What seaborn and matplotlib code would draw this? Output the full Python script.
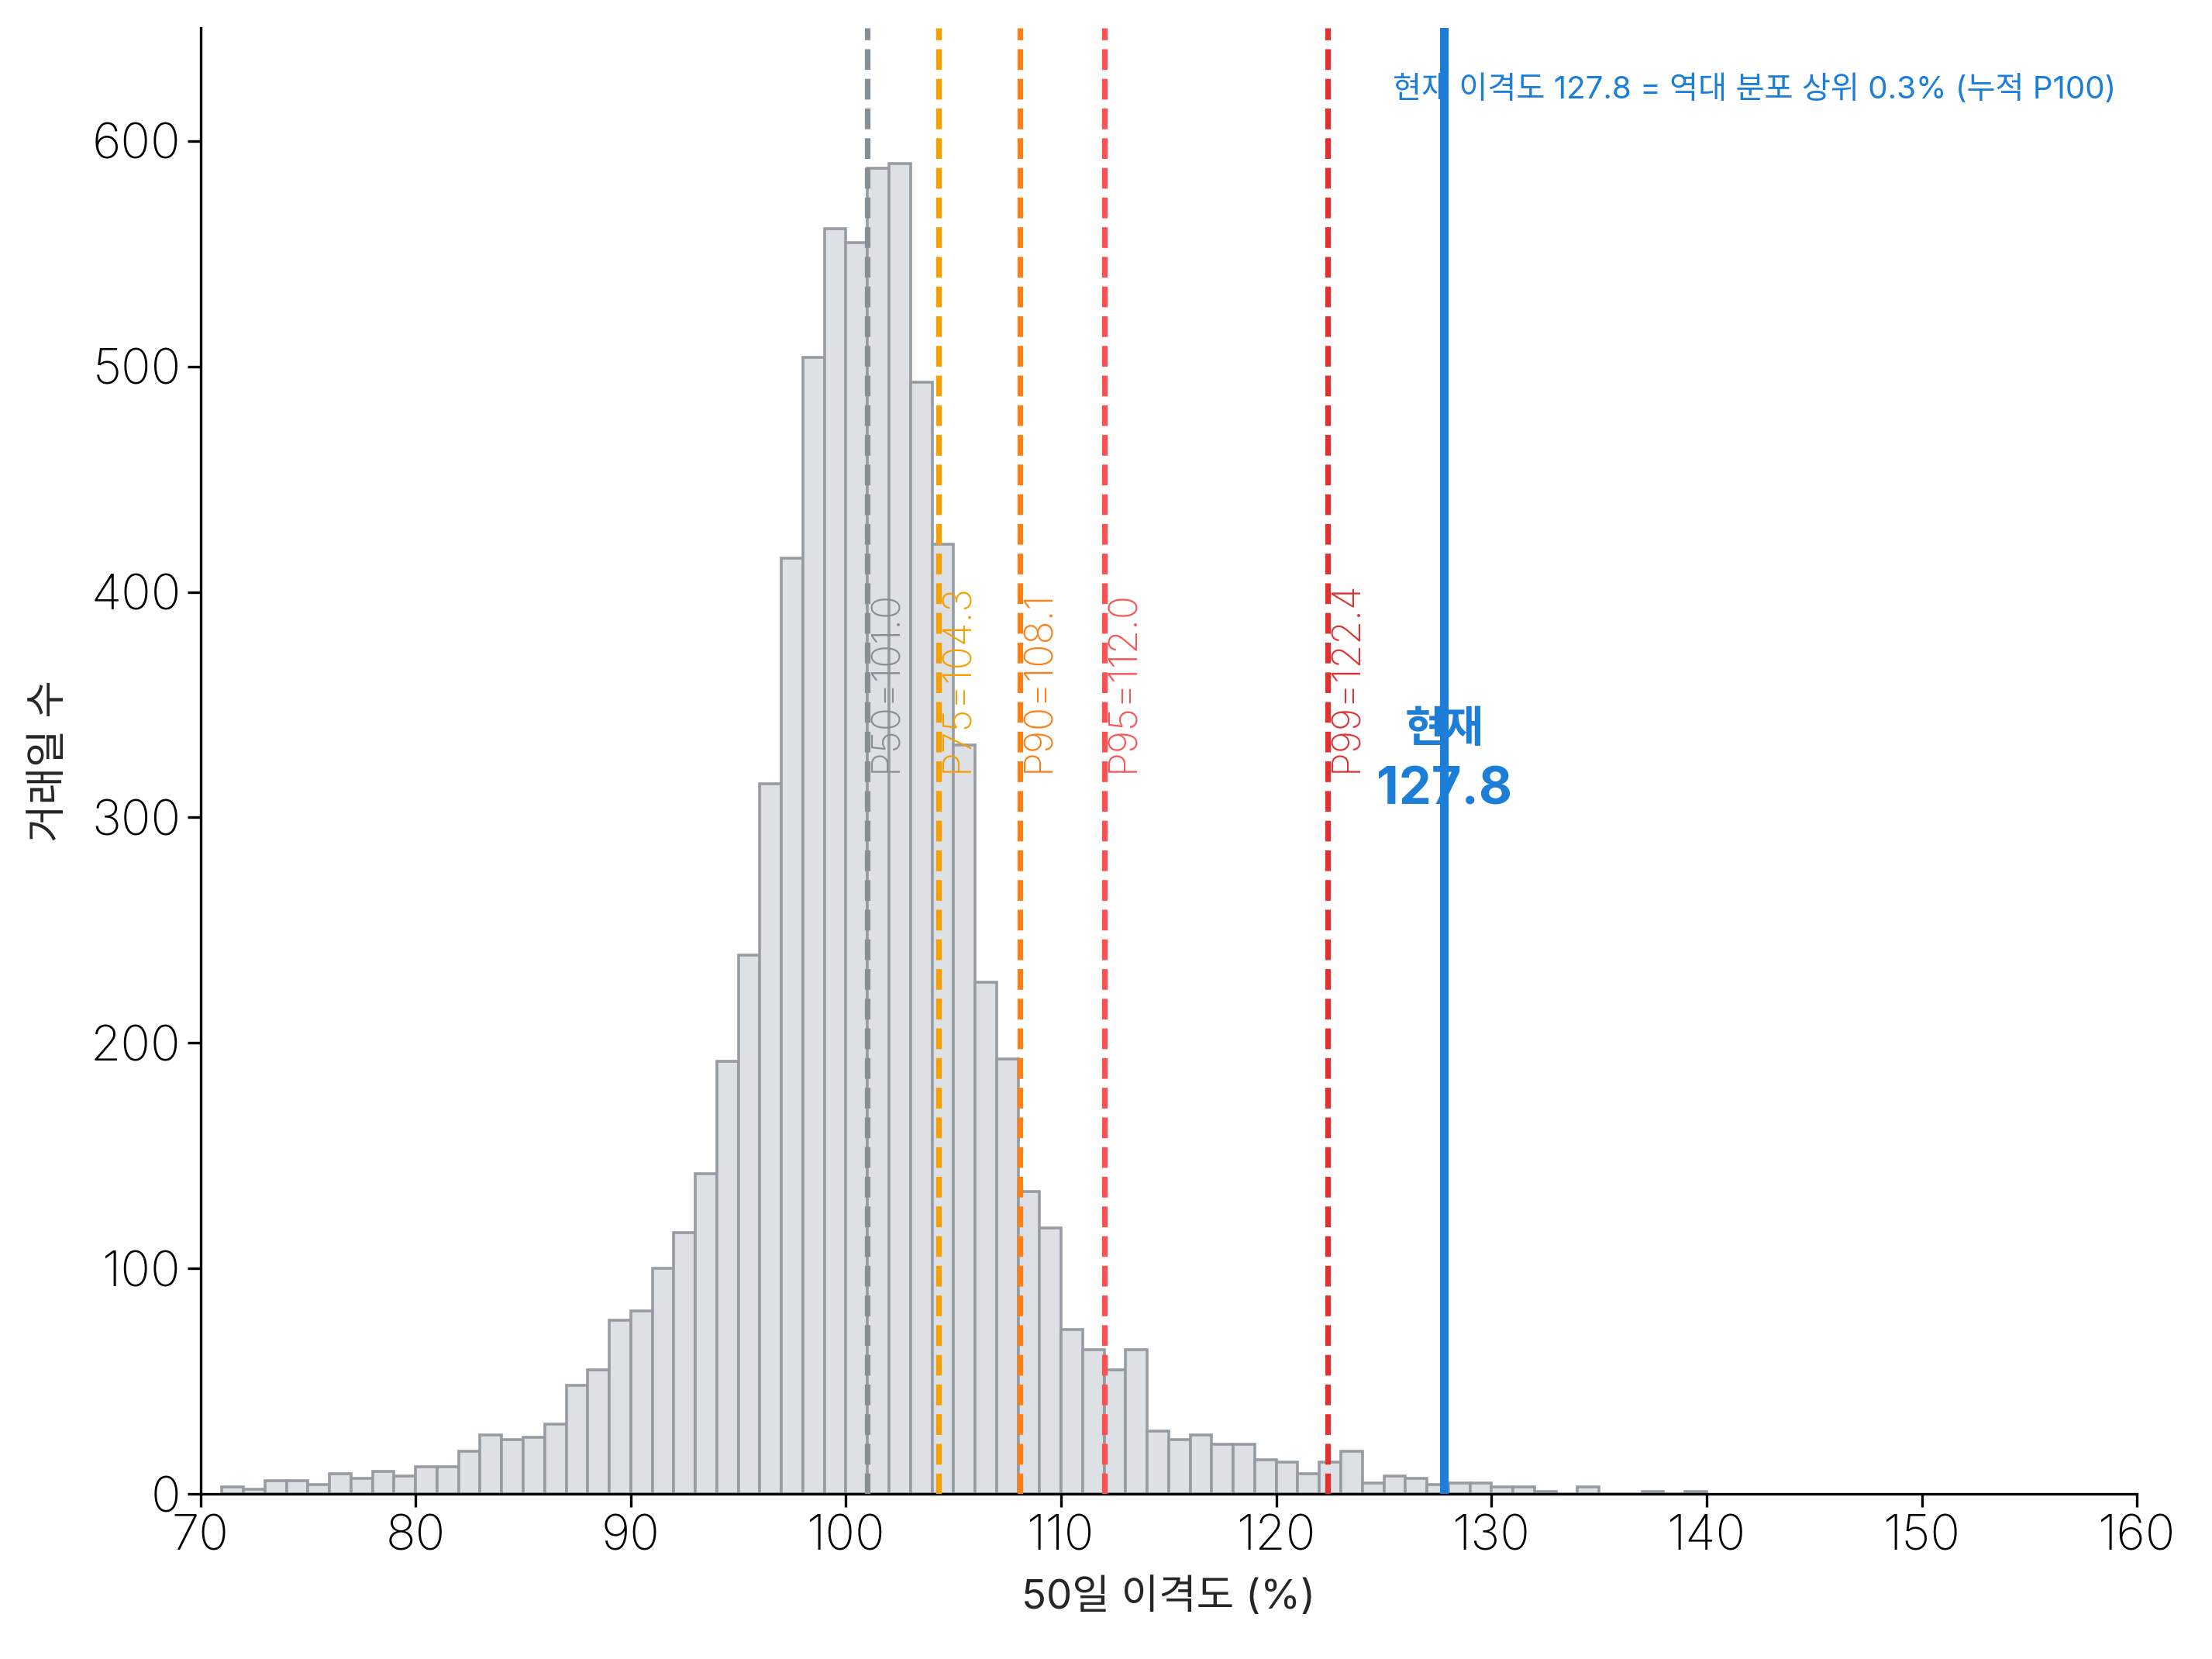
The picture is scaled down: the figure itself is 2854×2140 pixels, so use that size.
import numpy as np
import pandas as pd
import matplotlib
matplotlib.use("Agg")
import matplotlib.pyplot as plt
import seaborn as sns

# ---- data ----
bin_edges = list(range(71, 141))
bin_counts = [3, 2, 6, 6, 4, 9, 7, 10, 8, 12,
              12, 19, 26, 24, 25, 31, 48, 55, 77, 81,
              100, 116, 142, 192, 239, 315, 415, 504, 561, 555,
              588, 590, 493, 421, 332, 227, 193, 134, 118, 73,
              64, 55, 64, 28, 24, 26, 22, 22, 15, 14,
              9, 14, 19, 5, 8, 7, 4, 5, 5, 3,
              3, 1, 0, 3, 0, 0, 1, 0, 1]
pct_names = ["P50", "P75", "P90", "P95", "P99"]
pct_values = [101.0, 104.3, 108.1, 112.0, 122.4]
current_value = 127.8
top_note = "현재 이격도 127.8 = 역대 분포 상위 0.3% (누적 P100)"
x_ticks = [70, 80, 90, 100, 110, 120, 130, 140, 150, 160]
y_ticks = [0, 100, 200, 300, 400, 500, 600]

pct_colors = ["#868e96", "#f59f00", "#fd7e14", "#fa5252", "#e03131"]
blue = "#1c7ed6"

sns.set_theme(style="ticks")
plt.rcParams["font.family"] = ["Inter", "Noto Sans CJK KR", "DejaVu Sans"]
plt.rcParams["axes.unicode_minus"] = False

edges = [float(e) for e in bin_edges]
centers = [(a + b) / 2 for a, b in zip(edges[:-1], edges[1:])]
df = pd.DataFrame({"x": centers, "w": [float(c) for c in bin_counts]})

fig = plt.figure(figsize=(14.27, 10.70), dpi=200)
ax = fig.add_axes([0.0906, 0.0995, 0.8755, 0.8835])

sns.histplot(data=df, x="x", weights="w", bins=edges, ax=ax,
             color="#dde0e4", edgecolor="#959ca3", linewidth=1.3, alpha=1.0)

for name, val, col in zip(pct_names, pct_values, pct_colors):
    ax.axvline(val, color=col, linestyle="--", linewidth=2.6, zorder=3)
    ax.text(val + 0.05, 320, f"{name}={val:.1f}", rotation=90, color=col,
            ha="left", va="bottom", fontsize=18, fontweight="light", zorder=4)

ax.axvline(current_value, color=blue, linewidth=4.0, zorder=3)
ax.text(current_value, 339, "현재", color=blue, fontsize=20, fontweight="bold",
        family=["Noto Sans CJK KR"], ha="center", va="center", zorder=5)
ax.text(current_value, 312, f"{current_value:.1f}", color=blue, fontsize=24,
        fontweight="bold", ha="center", va="center", zorder=5)

ax.text(0.989, 0.958, top_note, transform=ax.transAxes, color=blue,
        fontsize=14.5, fontweight="normal", ha="right", va="center", zorder=5)

ax.set_xlim(70, 160)
ax.set_ylim(0, 650)
ax.set_xticks(x_ticks)
ax.set_yticks(y_ticks)
ax.tick_params(axis="both", labelsize=23, length=6, width=1.2, direction="out", colors="black")
ax.tick_params(axis="y", pad=3)
for lab in ax.get_xticklabels() + ax.get_yticklabels():
    lab.set_fontweight("light")
ax.set_xlabel("50일 이격도 (%)", fontsize=19, fontweight="normal", labelpad=8)
ax.set_ylabel("거래일 수", fontsize=19, fontweight="normal", labelpad=10)
for s in ["left", "bottom"]:
    ax.spines[s].set_linewidth(1.2)
    ax.spines[s].set_color("black")
sns.despine(ax=ax)

fig.savefig("out.png", dpi=200)
